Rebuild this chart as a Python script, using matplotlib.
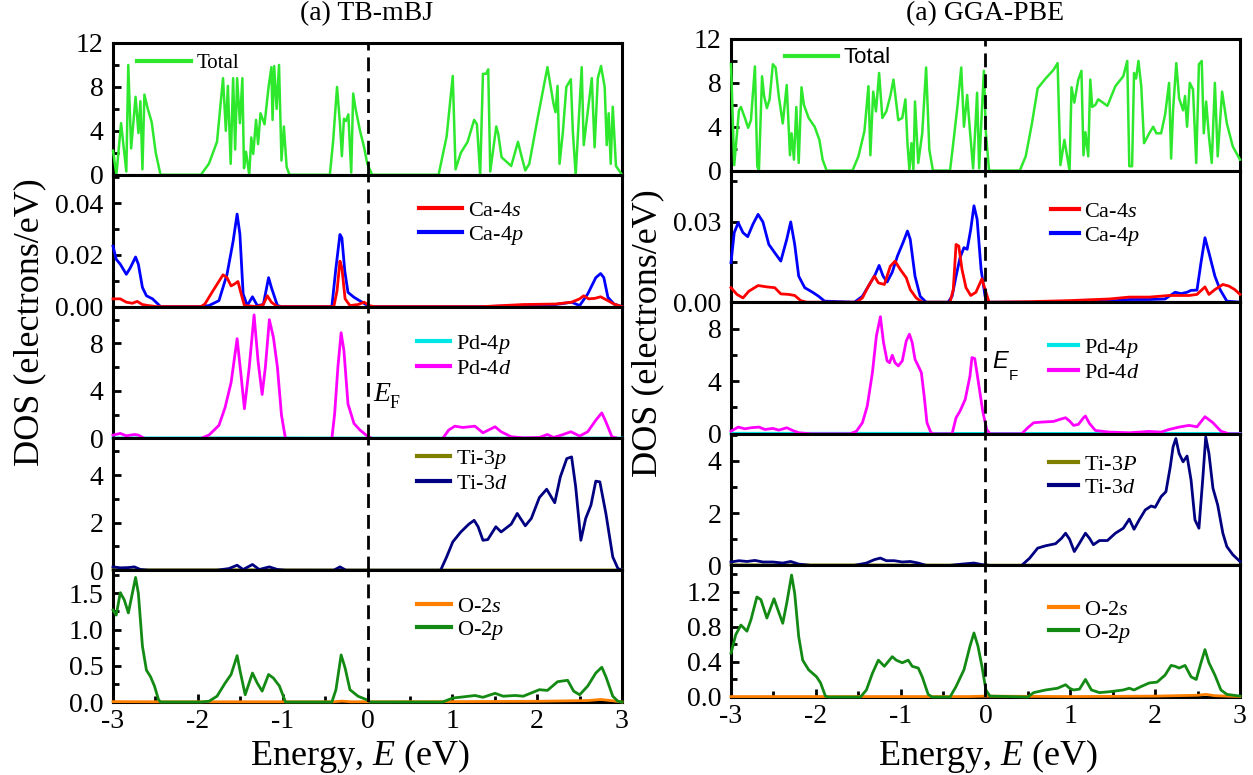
import matplotlib
matplotlib.use("Agg")
import matplotlib.pyplot as plt
from matplotlib.ticker import MultipleLocator, FormatStrFormatter
from matplotlib.lines import Line2D

plt.rcParams['font.family'] = 'Liberation Serif'
plt.rcParams['mathtext.fontset'] = 'custom'
plt.rcParams['mathtext.rm'] = 'Liberation Serif'
plt.rcParams['mathtext.it'] = 'Liberation Serif:italic'
plt.rcParams['axes.unicode_minus'] = False

# ---------------- TB-mBJ (left) data ----------------
tb_total_E = [-3.000, -2.96, -2.905, -2.843, -2.82, -2.786, -2.734, -2.70, -2.677, -2.653, -2.63, -2.59,
              -2.544, -2.496, -2.44, -1.964, -1.87, -1.774, -1.703, -1.67, -1.646, -1.613, -1.584, -1.56,
              -1.537, -1.504, -1.475, -1.456, -1.432, -1.394, -1.37, -1.347, -1.314, -1.29, -1.261, -1.214,
              -1.166, -1.133, -1.119, -1.10, -1.071, -1.043, -1.014, -0.986, -0.953, -0.919, -0.444, -0.406,
              -0.359, -0.325, -0.302, -0.278, -0.254, -0.226, -0.192, -0.169, -0.14, -0.088, -0.04, -0.002,
              0.055, 0.838, 0.933, 1.005, 1.038, 1.10, 1.18, 1.257, 1.29, 1.328, 1.361, 1.399, 1.423, 1.447,
              1.518, 1.542, 1.58, 1.637, 1.694, 1.774, 1.812, 1.86, 1.907, 2.002, 2.121, 2.192, 2.216, 2.24,
              2.264, 2.302, 2.344, 2.397, 2.42, 2.454, 2.525, 2.549, 2.644, 2.677, 2.715, 2.753, 2.796, 2.82,
              2.843, 2.867, 2.891, 2.929, 3.00]
tb_total_dos = [2.2, 0.0, 4.7, 0.3, 10.0, 2.4, 7.1, 3.8, 6.7, 0.5, 7.3, 6.0,
                4.8, 2.0, 0.0, 0.0, 1.0, 3.0, 8.8, 4.0, 8.1, 1.0, 8.8, 2.3,
                8.8, 4.7, 8.8, 0.6, 2.1, 0.0, 3.4, 1.9, 5.0, 2.8, 5.6, 4.6,
                8.0, 9.8, 5.0, 9.9, 6.0, 10.0, 1.3, 4.4, 0.7, 0.0, 0.0, 3.0,
                8.0, 4.7, 1.7, 5.1, 4.9, 5.5, 0.2, 7.4, 6.0, 4.0, 2.5, 1.0,
                0.0, 0.0, 3.5, 9.0, 0.5, 2.0, 3.0, 5.0, 4.6, 0.0, 9.2, 9.2, 9.6, 0.3,
                4.4, 3.7, 1.6, 1.2, 0.8, 3.0, 1.8, 0.4, 1.0, 5.0, 9.8, 6.5, 5.7, 8.1,
                1.0, 3.8, 8.0, 8.7, 4.0, 0.0, 9.8, 2.7, 8.8, 2.5, 8.8, 9.9, 8.0, 2.7,
                5.6, 1.0, 6.2, 0.8, 0.0]

tb_ca4p_E = [-3.000, -2.962, -2.914, -2.843, -2.796, -2.734, -2.701, -2.653, -2.606, -2.534, -2.439, -1.964,
             -1.869, -1.751, -1.656, -1.584, -1.537, -1.504, -1.466, -1.418, -1.356, -1.299, -1.228, -1.166,
             -1.133, -1.062, -1.014, -0.420, -0.372, -0.325, -0.302, -0.268, -0.230, -0.159, -0.064, 0.021,
             1.361, 1.836, 2.216, 2.406, 2.501, 2.596, 2.691, 2.748, 2.786, 2.834, 2.905, 3.000]
tb_ca4p_dos = [0.0234, 0.0183, 0.0164, 0.0125, 0.0150, 0.0192, 0.0164, 0.0074, 0.0042, 0.0030, 0.0, 0.0,
               0.0004, 0.0023, 0.0125, 0.0253, 0.0358, 0.0280, 0.0049, 0.0004, 0.0038, 0.0004, 0.0008, 0.0112,
               0.0074, 0.0004, 0.0, 0.0, 0.0150, 0.0279, 0.0266, 0.0138, 0.0055, 0.0036, 0.0017, 0.0,
               0.0, 0.0004, 0.0008, 0.0017, 0.0004, 0.0049, 0.0112, 0.0128, 0.0112, 0.0036, 0.0010, 0.0]

tb_ca4s_E = [-3.000, -2.914, -2.843, -2.772, -2.715, -2.653, -2.582, -2.487, -1.964, -1.917, -1.822, -1.703,
             -1.656, -1.608, -1.570, -1.527, -1.499, -1.451, -1.299, -1.228, -1.181, -1.133, -1.062, -0.397,
             -0.359, -0.325, -0.302, -0.264, -0.207, -0.112, -0.040, 0.021, 0.078, 1.361, 1.836, 2.216,
             2.406, 2.501, 2.549, 2.606, 2.682, 2.748, 2.834, 2.905, 3.000]
tb_ca4s_dos = [0.0030, 0.0030, 0.0017, 0.0013, 0.0020, 0.0008, 0.0004, 0.0, 0.0, 0.0010, 0.0061, 0.0123,
               0.0112, 0.0080, 0.0087, 0.0097, 0.0061, 0.0004, 0.0, 0.0008, 0.0042, 0.0017, 0.0, 0.0,
               0.0061, 0.0176, 0.0150, 0.0030, 0.0004, 0.0008, 0.0017, 0.0004, 0.0, 0.0, 0.0008, 0.0010,
               0.0017, 0.0030, 0.0042, 0.0030, 0.0032, 0.0038, 0.0023, 0.0010, 0.0]

tb_pd4d_E = [-3.000, -2.914, -2.843, -2.748, -2.701, -2.629, -1.964, -1.869, -1.751, -1.679, -1.608, -1.537,
             -1.489, -1.451, -1.394, -1.337, -1.290, -1.242, -1.204, -1.157, -1.109, -1.062, -1.014, -0.967,
             -0.420, -0.387, -0.349, -0.311, -0.278, -0.230, -0.159, -0.088, 0.007, 0.055, 0.886, 0.957,
             1.029, 1.124, 1.266, 1.361, 1.504, 1.575, 1.694, 1.836, 2.026, 2.121, 2.192, 2.287, 2.397,
             2.501, 2.596, 2.691, 2.762, 2.810, 2.881, 2.952, 3.000]
tb_pd4d_dos = [0.28, 0.42, 0.22, 0.33, 0.28, 0.0, 0.0, 0.28, 1.1, 2.6, 4.7, 8.4,
               5.2, 2.5, 6.0, 10.4, 6.5, 3.7, 6.0, 10.0, 8.5, 6.0, 1.95, 0.0,
               0.0, 2.1, 6.0, 8.9, 7.4, 2.9, 1.25, 0.7, 0.14, 0.0, 0.0, 0.7,
               1.03, 0.92, 1.03, 0.47, 0.98, 0.56, 0.14, 0.05, 0.08, 0.33, 0.08, 0.28, 0.56,
               0.2, 0.56, 1.53, 2.15, 1.4, 0.14, 0.0, 0.0]
tb_pd4p_E = [-3.0, -1.5, 0.0, 1.5, 3.0]
tb_pd4p_dos = [0.04, 0.05, 0.03, 0.03, 0.03]

tb_ti3d_E = [-3.000, -2.914, -2.819, -2.748, -2.677, -2.582, -1.774, -1.632, -1.537, -1.466, -1.356, -1.276,
             -1.157, -1.062, -0.967, -0.397, -0.325, -0.254, 0.862, 0.933, 1.005, 1.100, 1.195, 1.257,
             1.304, 1.361, 1.418, 1.513, 1.575, 1.694, 1.765, 1.860, 1.931, 2.026, 2.112, 2.207, 2.273,
             2.349, 2.406, 2.454, 2.515, 2.572, 2.634, 2.691, 2.739, 2.810, 2.891, 2.952, 3.000]
tb_ti3d_dos = [0.14, 0.10, 0.11, 0.14, 0.03, 0.0, 0.0, 0.07, 0.21, 0.03, 0.24, 0.03,
               0.14, 0.03, 0.0, 0.0, 0.14, 0.0, 0.0, 0.56, 1.19, 1.61, 1.94, 2.10,
               1.83, 1.26, 1.29, 1.83, 1.61, 1.94, 2.39, 1.87, 2.18, 3.06, 3.41, 2.84, 3.93,
               4.70, 4.77, 3.51, 1.26, 2.18, 2.74, 3.75, 3.72, 2.39, 0.56, 0.07, 0.0]
tb_ti3p_E = [-3.0, -1.5, 0.0, 1.5, 3.0]
tb_ti3p_dos = [0.02, 0.02, 0.01, 0.01, 0.01]

tb_o2p_E = [-3.000, -2.962, -2.914, -2.867, -2.819, -2.772, -2.734, -2.701, -2.653, -2.606, -2.558, -2.511,
            -2.463, -2.439, -1.964, -1.869, -1.774, -1.679, -1.608, -1.537, -1.504, -1.442, -1.356, -1.299,
            -1.242, -1.166, -1.109, -1.038, -0.967, -0.420, -0.372, -0.311, -0.264, -0.207, -0.112, -0.007,
            0.031, 0.886, 1.005, 1.124, 1.266, 1.361, 1.504, 1.599, 1.741, 1.836, 2.026, 2.121, 2.240,
            2.359, 2.430, 2.501, 2.596, 2.691, 2.762, 2.810, 2.891, 2.952, 3.000]
tb_o2p_dos = [1.27, 1.20, 1.51, 1.41, 1.23, 1.50, 1.72, 1.50, 0.77, 0.44, 0.35, 0.22,
              0.03, 0.0, 0.0, 0.01, 0.08, 0.26, 0.38, 0.64, 0.44, 0.10, 0.40, 0.26,
              0.15, 0.38, 0.33, 0.22, 0.0, 0.0, 0.17, 0.65, 0.47, 0.17, 0.08, 0.03,
              0.0, 0.0, 0.055, 0.07, 0.09, 0.065, 0.12, 0.08, 0.09, 0.08, 0.17, 0.16, 0.28,
              0.30, 0.15, 0.10, 0.22, 0.40, 0.48, 0.35, 0.08, 0.01, 0.0]
tb_o2s_E = [-3.0, -2.5, -0.4, -0.3, -0.2, 1.0, 2.0, 2.6, 2.75, 2.9, 3.0]
tb_o2s_dos = [0.005, 0.003, 0.003, 0.012, 0.003, 0.005, 0.01, 0.02, 0.035, 0.015, 0.0]

# ---------------- GGA-PBE (right) data ----------------
gga_total_E = [-3.000, -2.962, -2.906, -2.883, -2.836, -2.798, -2.765, -2.718, -2.690, -2.671, -2.634, -2.610,
               -2.577, -2.545, -2.507, -2.474, -2.437, -2.390, -2.343, -2.305, -2.286, -2.258, -2.230, -2.202,
               -2.169, -2.141, -2.085, -2.014, -1.958, -1.920, -1.873, -1.568, -1.498, -1.427, -1.380, -1.357,
               -1.324, -1.291, -1.254, -1.216, -1.169, -1.122, -1.085, -1.028, -0.981, -0.944, -0.920, -0.897,
               -0.873, -0.850, -0.831, -0.793, -0.746, -0.700, -0.662, -0.620, -0.418, -0.380, -0.333, -0.286,
               -0.254, -0.216, -0.183, -0.146, -0.122, -0.099, -0.075, -0.052, -0.019, 0.005, 0.042, 0.404,
               0.474, 0.545, 0.615, 0.709, 0.803, 0.850, 0.883, 0.930, 0.991, 1.014, 1.047, 1.094, 1.131,
               1.155, 1.178, 1.211, 1.235, 1.258, 1.296, 1.329, 1.366, 1.437, 1.531, 1.624, 1.671, 1.695,
               1.728, 1.751, 1.775, 1.803, 1.836, 1.869, 1.930, 1.977, 2.014, 2.070, 2.117, 2.164, 2.188,
               2.211, 2.249, 2.282, 2.329, 2.352, 2.376, 2.408, 2.446, 2.484, 2.516, 2.549, 2.573, 2.601,
               2.634, 2.667, 2.704, 2.737, 2.789, 2.845, 2.915, 3.000]
gga_total_dos = [9.7, 0.5, 5.5, 5.8, 4.8, 3.9, 4.6, 9.5, 0.4, 0.0, 8.6, 6.8,
                 5.7, 6.5, 9.7, 9.4, 6.8, 4.3, 7.8, 1.4, 3.4, 1.0, 5.8, 0.7,
                 7.6, 6.0, 4.8, 4.0, 2.8, 1.0, 0.0, 0.0, 1.3, 3.6, 7.7, 1.4,
                 7.2, 5.4, 8.9, 4.8, 5.4, 6.8, 8.3, 4.6, 4.8, 6.5, 2.5, 0.06,
                 2.5, 0.06, 6.3, 0.7, 3.4, 9.4, 1.9, 0.0, 0.0, 2.5, 5.7, 9.4,
                 4.0, 6.9, 3.6, 0.2, 3.6, 7.1, 0.2, 4.0, 9.1, 3.4, 0.0, 0.0,
                 1.3, 4.2, 7.5, 8.4, 9.2, 9.8, 0.5, 2.8, 0.0, 7.6, 6.2, 8.3, 9.1,
                 1.4, 3.5, 1.3, 8.3, 5.8, 6.0, 6.5, 6.3, 5.9, 7.7, 8.6, 10.0, 0.4,
                 0.4, 8.9, 8.4, 10.0, 7.7, 2.5, 3.4, 4.0, 3.4, 3.4, 5.1, 8.0, 1.1,
                 5.5, 9.8, 6.6, 5.5, 6.8, 4.0, 8.0, 7.4, 0.7, 9.7, 10.0, 3.4, 6.3,
                 3.1, 0.7, 8.0, 1.3, 7.2, 4.3, 2.2, 1.0]

gga_ca4p_E = [-3.000, -2.962, -2.915, -2.859, -2.803, -2.742, -2.681, -2.624, -2.554, -2.484, -2.413, -2.343,
              -2.296, -2.249, -2.202, -2.131, -2.038, -1.967, -1.897, -1.545, -1.451, -1.357, -1.300, -1.254,
              -1.207, -1.160, -1.099, -1.038, -0.972, -0.920, -0.887, -0.831, -0.770, -0.700, -0.441, -0.394,
              -0.347, -0.300, -0.254, -0.216, -0.174, -0.136, -0.099, -0.052, -0.005, 0.042, 0.991, 1.225,
              1.460, 1.695, 1.930, 2.117, 2.235, 2.305, 2.376, 2.423, 2.493, 2.540, 2.587, 2.634, 2.704,
              2.765, 2.845, 3.000]
gga_ca4p_dos = [0.0147, 0.0259, 0.0296, 0.0259, 0.0244, 0.0290, 0.0327, 0.0299, 0.0215, 0.0184, 0.0153, 0.0234,
                0.0299, 0.0215, 0.0097, 0.0054, 0.0037, 0.0022, 0.0004, 0.0, 0.0022, 0.0072, 0.0103, 0.0137,
                0.0097, 0.0075, 0.0112, 0.0172, 0.0222, 0.0265, 0.0234, 0.0097, 0.0022, 0.0, 0.0, 0.0022,
                0.0097, 0.0166, 0.0203, 0.0197, 0.0271, 0.0359, 0.0309, 0.0122, 0.0022, 0.0, 0.0, 0.0006,
                0.0004, 0.0010, 0.0010, 0.0012, 0.0037, 0.0032, 0.0037, 0.0044, 0.0045, 0.0147, 0.0240, 0.0184,
                0.0097, 0.0047, 0.0004, 0.0]

gga_ca4s_E = [-3.000, -2.930, -2.859, -2.789, -2.681, -2.577, -2.484, -2.413, -2.319, -2.249, -2.178, -2.108,
              -1.521, -1.451, -1.380, -1.310, -1.263, -1.192, -1.122, -1.066, -1.005, -0.934, -0.887, -0.817,
              -0.746, -0.418, -0.380, -0.347, -0.315, -0.277, -0.230, -0.174, -0.113, -0.042, -0.005, 0.042,
              0.521, 0.991, 1.460, 1.695, 1.930, 2.164, 2.399, 2.493, 2.587, 2.634, 2.704, 2.798, 2.869,
              2.939, 3.000]
gga_ca4s_dos = [0.0054, 0.0029, 0.0016, 0.0041, 0.0062, 0.0057, 0.0054, 0.0031, 0.0029, 0.0025, 0.0006, 0.0,
                0.0, 0.0016, 0.0060, 0.0097, 0.0072, 0.0066, 0.0134, 0.0153, 0.0122, 0.0091, 0.0047, 0.0016,
                0.0, 0.0, 0.0047, 0.0215, 0.0209, 0.0122, 0.0054, 0.0025, 0.0037, 0.0087, 0.0047, 0.0,
                0.0002, 0.0006, 0.0012, 0.0019, 0.0019, 0.0025, 0.0025, 0.0029, 0.0057, 0.0029, 0.0047, 0.0066,
                0.0060, 0.0047, 0.0029]

gga_pd4d_E = [-3.000, -2.915, -2.836, -2.765, -2.671, -2.601, -2.507, -2.437, -2.343, -2.272, -2.202, -2.061,
              -1.592, -1.521, -1.451, -1.394, -1.333, -1.286, -1.239, -1.202, -1.160, -1.131, -1.099, -1.066,
              -1.028, -0.981, -0.934, -0.897, -0.864, -0.831, -0.793, -0.756, -0.723, -0.690, -0.643, -0.606,
              -0.394, -0.347, -0.300, -0.239, -0.183, -0.160, -0.127, -0.089, -0.033, 0.014, 0.052, 0.427,
              0.498, 0.568, 0.662, 0.803, 0.873, 0.944, 0.991, 1.038, 1.094, 1.155, 1.178, 1.225, 1.296,
              1.460, 1.695, 1.930, 2.070, 2.164, 2.282, 2.399, 2.493, 2.587, 2.681, 2.775, 2.869, 3.000]
gga_pd4d_dos = [0.2, 0.51, 0.38, 0.46, 0.51, 0.33, 0.41, 0.28, 0.46, 0.25, 0.08, 0.0,
                0.0, 0.2, 0.84, 2.1, 4.65, 7.44, 8.9, 6.93, 5.54, 5.4, 5.97, 5.4,
                5.16, 5.54, 7.06, 7.57, 6.93, 5.66, 5.16, 4.65, 2.87, 0.84, 0.08, 0.0,
                0.0, 1.22, 1.73, 2.62, 4.39, 5.79, 5.72, 4.14, 1.73, 0.33, 0.0, 0.0,
                0.46, 0.84, 0.89, 0.94, 1.09, 1.22, 0.97, 0.64, 0.71, 1.22, 1.35, 0.79, 0.25,
                0.13, 0.08, 0.18, 0.13, 0.33, 0.51, 0.64, 0.53, 1.3, 0.84, 0.2, 0.0, 0.0]
gga_pd4p_E = [-3.0, -1.5, 0.0, 1.5, 3.0]
gga_pd4p_dos = [0.04, 0.04, 0.03, 0.03, 0.03]

gga_ti3d_E = [-3.000, -2.906, -2.812, -2.718, -2.624, -2.507, -2.390, -2.296, -2.202, -2.061, -1.545, -1.404,
              -1.310, -1.239, -1.169, -1.075, -0.981, -0.887, -0.793, -0.700, -0.418, -0.277, -0.136, -0.042,
              0.052, 0.427, 0.521, 0.615, 0.709, 0.826, 0.897, 0.944, 0.991, 1.047, 1.108, 1.178, 1.225,
              1.272, 1.343, 1.437, 1.531, 1.624, 1.695, 1.751, 1.812, 1.883, 1.953, 2.000, 2.070, 2.127,
              2.178, 2.211, 2.244, 2.282, 2.329, 2.376, 2.423, 2.469, 2.516, 2.563, 2.596, 2.634, 2.681,
              2.737, 2.798, 2.845, 2.915, 3.000]
gga_ti3d_dos = [0.13, 0.18, 0.15, 0.19, 0.13, 0.13, 0.09, 0.15, 0.05, 0.0, 0.0, 0.09,
                0.22, 0.28, 0.18, 0.18, 0.13, 0.15, 0.09, 0.0, 0.0, 0.05, 0.09, 0.03,
                0.0, 0.0, 0.28, 0.66, 0.75, 0.83, 1.04, 1.23, 1.0, 0.53, 0.85, 1.23, 1.04,
                0.79, 0.95, 0.95, 1.23, 1.42, 1.77, 1.38, 1.74, 2.12, 2.27, 2.22, 2.63, 2.82,
                3.77, 4.53, 4.85, 4.28, 3.96, 4.18, 3.26, 1.74, 1.42, 3.39, 4.91, 4.28, 2.95,
                2.31, 1.23, 0.72, 0.41, 0.15]
gga_ti3p_E = [-3.0, -1.5, 0.0, 1.5, 3.0]
gga_ti3p_dos = [0.02, 0.02, 0.01, 0.01, 0.01]

gga_o2p_E = [-3.000, -2.944, -2.883, -2.812, -2.765, -2.695, -2.648, -2.577, -2.493, -2.446, -2.390, -2.343,
             -2.286, -2.249, -2.202, -2.155, -2.085, -1.991, -1.944, -1.887, -1.850, -1.474, -1.404, -1.333,
             -1.263, -1.192, -1.099, -1.052, -0.981, -0.911, -0.864, -0.793, -0.746, -0.676, -0.629, -0.418,
             -0.347, -0.254, -0.183, -0.136, -0.089, -0.042, 0.005, 0.052, 0.498, 0.568, 0.709, 0.850,
             0.944, 0.991, 1.038, 1.108, 1.178, 1.249, 1.343, 1.460, 1.624, 1.695, 1.751, 1.836, 1.930,
             2.023, 2.117, 2.188, 2.235, 2.282, 2.352, 2.423, 2.484, 2.540, 2.587, 2.634, 2.704, 2.775,
             2.845, 3.000]
gga_o2p_dos = [0.50, 0.71, 0.82, 0.75, 0.88, 1.14, 1.11, 0.90, 1.12, 0.99, 0.84, 1.07,
               1.39, 1.18, 0.69, 0.42, 0.31, 0.23, 0.16, 0.01, 0.0, 0.0, 0.08, 0.27,
               0.42, 0.35, 0.46, 0.42, 0.39, 0.42, 0.35, 0.33, 0.23, 0.03, 0.0, 0.0,
               0.12, 0.31, 0.58, 0.73, 0.58, 0.35, 0.08, 0.01, 0.0, 0.05, 0.08, 0.10,
               0.14, 0.10, 0.08, 0.09, 0.20, 0.08, 0.05, 0.06, 0.08, 0.10, 0.08, 0.12, 0.16,
               0.17, 0.25, 0.36, 0.35, 0.33, 0.36, 0.23, 0.20, 0.39, 0.54, 0.39, 0.25, 0.08,
               0.03, 0.01]
gga_o2s_E = [-3.0, -0.2, 0.0, 1.0, 2.0, 2.5, 2.6, 2.7, 3.0]
gga_o2s_dos = [0.005, 0.005, 0.01, 0.005, 0.01, 0.02, 0.03, 0.015, 0.005]

# ---------------- styling ----------------
C_TOTAL = '#2ee82e'
C_S_CA, C_P_CA = '#ff0000', '#0000ff'
C_PD_P, C_PD_D = '#00e5e5', '#ff00ff'
C_TI_P, C_TI_D = '#808000', '#000080'
C_O_S, C_O_P = '#ff8000', '#138a13'

W, H = 1253, 775
fig = plt.figure(figsize=(W / 100, H / 100), dpi=100)


def make_column(x0, x1, ytop, ybot):
    h = (ybot - ytop) / 5.0
    axs = []
    for i in range(5):
        top = ytop + i * h
        ax = fig.add_axes([x0 / W, 1 - (top + h) / H, (x1 - x0) / W, h / H])
        axs.append(ax)
    return axs


def style_axis(ax, ylim, major, minor, fmt, bottom):
    ax.set_xlim(-3, 3)
    ax.set_ylim(*ylim)
    for sp in ax.spines.values():
        sp.set_linewidth(2.2)
    ax.yaxis.set_major_locator(MultipleLocator(major))
    ax.yaxis.set_minor_locator(MultipleLocator(minor))
    ax.yaxis.set_major_formatter(FormatStrFormatter(fmt))
    ax.tick_params(axis='y', which='both', direction='in', right=False, width=2, labelsize=20, pad=7)
    ax.tick_params(axis='y', which='major', length=6)
    ax.tick_params(axis='y', which='minor', length=4)
    ax.xaxis.set_major_locator(MultipleLocator(1))
    ax.xaxis.set_minor_locator(MultipleLocator(0.5))
    if bottom:
        ax.xaxis.set_major_formatter(FormatStrFormatter('%d'))
        ax.tick_params(axis='x', which='both', direction='in', top=False, width=2, labelsize=20, pad=5)
        ax.tick_params(axis='x', which='major', length=6)
        ax.tick_params(axis='x', which='minor', length=4)
    else:
        ax.tick_params(axis='x', which='both', bottom=False, top=False, labelbottom=False)
    dl = ax.axvline(0, color='black', lw=2.0, zorder=4)
    dl.set_dashes([5, 2.5])


def curve(ax, E, d, color, lw=2.0):
    ax.plot(E, d, color=color, lw=lw, zorder=3, clip_on=False, solid_joinstyle='round')


def legend(ax, entries, x, yc, hl, size=16, family=None):
    handles = [Line2D([], [], color=c, lw=3) for c, _ in entries]
    labels = [l for _, l in entries]
    prop = {'size': size}
    if family:
        prop['family'] = family
    ax.legend(handles, labels, loc='center left', bbox_to_anchor=(x, yc), frameon=False,
              handlelength=hl, handletextpad=0.25, labelspacing=0.12, borderpad=0,
              borderaxespad=0, prop=prop)


# ---- left column ----
L = make_column(113, 622, 43, 702)
style_axis(L[0], (0, 12), 4, 2, '%d', False)
style_axis(L[1], (0, 0.051), 0.02, 0.01, '%.2f', False)
style_axis(L[2], (0, 11.1), 4, 2, '%d', False)
style_axis(L[3], (0, 5.55), 2, 1, '%d', False)
style_axis(L[4], (0, 1.82), 0.5, 0.25, '%.1f', True)

curve(L[0], tb_total_E, tb_total_dos, C_TOTAL, 1.8)
curve(L[1], tb_ca4p_E, tb_ca4p_dos, C_P_CA)
curve(L[1], tb_ca4s_E, tb_ca4s_dos, C_S_CA)
curve(L[2], tb_pd4p_E, tb_pd4p_dos, C_PD_P)
curve(L[2], tb_pd4d_E, tb_pd4d_dos, C_PD_D)
curve(L[3], tb_ti3p_E, tb_ti3p_dos, C_TI_P)
curve(L[3], tb_ti3d_E, tb_ti3d_dos, C_TI_D)
curve(L[4], tb_o2s_E, tb_o2s_dos, C_O_S)
curve(L[4], tb_o2p_E, tb_o2p_dos, C_O_P)

legend(L[0], [(C_TOTAL, 'Total')], 0.047, 0.847, 2.6, size=15)
legend(L[1], [(C_S_CA, 'Ca-4$s$'), (C_P_CA, 'Ca-4$p$')], 0.601, 0.629, 1.95)
legend(L[2], [(C_PD_P, 'Pd-4$p$'), (C_PD_D, 'Pd-4$d$')], 0.597, 0.625, 1.5)
legend(L[3], [(C_TI_P, 'Ti-3$p$'), (C_TI_D, 'Ti-3$d$')], 0.597, 0.754, 1.5)
legend(L[4], [(C_O_S, 'O-2$s$'), (C_O_P, 'O-2$p$')], 0.597, 0.629, 1.55)

# ---- right column ----
R = make_column(731, 1240, 39, 697)
style_axis(R[0], (0, 12), 4, 2, '%d', False)
style_axis(R[1], (0, 0.049), 0.03, 0.015, '%.2f', False)
style_axis(R[2], (0, 10.0), 4, 2, '%d', False)
style_axis(R[3], (0, 5.03), 2, 1, '%d', False)
style_axis(R[4], (0, 1.5), 0.4, 0.2, '%.1f', True)

curve(R[0], gga_total_E, gga_total_dos, C_TOTAL, 1.8)
curve(R[1], gga_ca4p_E, gga_ca4p_dos, C_P_CA)
curve(R[1], gga_ca4s_E, gga_ca4s_dos, C_S_CA)
curve(R[2], gga_pd4p_E, gga_pd4p_dos, C_PD_P)
curve(R[2], gga_pd4d_E, gga_pd4d_dos, C_PD_D)
curve(R[3], gga_ti3p_E, gga_ti3p_dos, C_TI_P)
curve(R[3], gga_ti3d_E, gga_ti3d_dos, C_TI_D)
curve(R[4], gga_o2s_E, gga_o2s_dos, C_O_S)
curve(R[4], gga_o2p_E, gga_o2p_dos, C_O_P)

legend(R[0], [(C_TOTAL, 'Total')], 0.106, 0.856, 2.4, size=16, family='Liberation Sans')
legend(R[1], [(C_S_CA, 'Ca-4$s$'), (C_P_CA, 'Ca-4$p$')], 0.629, 0.591, 1.25)
legend(R[2], [(C_PD_P, 'Pd-4$p$'), (C_PD_D, 'Pd-4$d$')], 0.625, 0.561, 1.3)
legend(R[3], [(C_TI_P, 'Ti-3$P$'), (C_TI_D, 'Ti-3$d$')], 0.625, 0.678, 1.3)
legend(R[4], [(C_O_S, 'O-2$s$'), (C_O_P, 'O-2$p$')], 0.625, 0.569, 1.3)

# ---- texts ----
fig.text(367 / W, 1 - 14 / H, '(a) TB-mBJ', ha='center', va='center', fontsize=20)
fig.text(985 / W, 1 - 14 / H, '(a) GGA-PBE', ha='center', va='center', fontsize=20)
fig.text(30 / W, 1 - 322 / H, 'DOS (electrons/eV)', rotation=90, ha='center', va='center', fontsize=26)
fig.text(648 / W, 1 - 333 / H, 'DOS (electrons/eV)', rotation=90, ha='center', va='center', fontsize=26)
fig.text(360 / W, 1 - 765 / H, 'Energy, $E$ (eV)', ha='center', va='baseline', fontsize=26)
fig.text(988 / W, 1 - 765 / H, 'Energy, $E$ (eV)', ha='center', va='baseline', fontsize=26)

fig.text(373 / W, 1 - 401 / H, 'E', style='italic', fontsize=20, va='baseline')
fig.text(390 / W, 1 - 408 / H, 'F', fontsize=13, va='baseline')
fig.text(992 / W, 1 - 368 / H, 'E', family='Liberation Sans', style='italic', fontsize=17, va='baseline')
fig.text(1009 / W, 1 - 380 / H, 'F', family='Liberation Sans', fontsize=11, va='baseline')

fig.savefig('out.png', dpi=100)
